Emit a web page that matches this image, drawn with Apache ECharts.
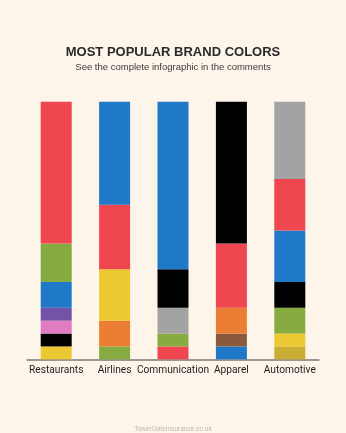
<!DOCTYPE html>
<html>
<head>
<meta charset="utf-8">
<script src="https://cdn.jsdelivr.net/npm/echarts@6/dist/echarts.min.js"></script>
<style>
html,body{margin:0;padding:0;background:#fdf5ea;}
#c{width:346px;height:433px;}
</style>
</head>
<body>
<div id="c"></div>
<script>
// Categories (x axis)
const categories = ["Restaurants", "Airlines", "Communication", "Apparel", "Automotive"];

// Share of each colour per category, listed bottom to top (percent)
const restaurantsValues   = [5, 5, 5, 5, 10, 15, 55];
const airlinesValues      = [5, 10, 20, 25, 40];
const communicationValues = [5, 5, 10, 15, 65];
const apparelValues       = [5, 5, 10, 25, 55];
const automotiveValues    = [5, 5, 10, 10, 20, 20, 30];

// Colour names per segment, bottom to top
const restaurantsColors   = ["yellow", "black", "pink", "purple", "blue", "green", "red"];
const airlinesColors      = ["green", "orange", "yellow", "red", "blue"];
const communicationColors = ["red", "green", "gray", "black", "blue"];
const apparelColors       = ["blue", "brown", "orange", "red", "black"];
const automotiveColors    = ["gold", "yellow", "green", "black", "blue", "red", "gray"];

const palette = {
  red: "#ef4650", green: "#86ab40", blue: "#1f78c8", purple: "#7352a8",
  pink: "#e07cc2", black: "#000000", yellow: "#ecc933", orange: "#ec7e33",
  gray: "#a3a3a3", brown: "#8b5a3c", gold: "#c9ae33"
};

const allValues = [restaurantsValues, airlinesValues, communicationValues, apparelValues, automotiveValues];
const allColors = [restaurantsColors, airlinesColors, communicationColors, apparelColors, automotiveColors];
const maxLayers = Math.max(...allValues.map(v => v.length));

const series = [];
for (let i = 0; i < maxLayers; i++) {
  series.push({
    type: "bar",
    stack: "total",
    barWidth: 31,
    silent: true,
    data: categories.map((c, ci) => {
      const v = allValues[ci][i];
      if (v === undefined) return "-";
      return { value: v, itemStyle: { color: palette[allColors[ci][i]] } };
    })
  });
}

const chart = echarts.init(document.getElementById("c"), null, { renderer: "canvas" });
chart.setOption({
  backgroundColor: "#fdf5ea",
  animation: false,
  title: [
    {
      text: "MOST POPULAR BRAND COLORS",
      left: "center", top: 41,
      textStyle: { fontFamily: "Liberation Sans, Arial, sans-serif", fontWeight: "bold", fontSize: 13, color: "#2a2a2a" }
    },
    {
      text: "See the complete infographic in the comments",
      left: "center", top: 57.5,
      textStyle: { fontFamily: "Liberation Sans, Arial, sans-serif", fontWeight: "normal", fontSize: 9.5, color: "#3a3a3a" }
    },
    {
      text: "TowerGateInsurance.co.uk",
      left: "center", top: 421,
      textStyle: { fontFamily: "Liberation Sans, Arial, sans-serif", fontWeight: "normal", fontSize: 6.5, color: "#bdb7ae" }
    }
  ],
  grid: { left: 27, width: 292, top: 101.7, bottom: 73.7, containLabel: false },
  xAxis: {
    type: "category",
    data: categories,
    axisLine: { show: true, lineStyle: { color: "#7a7a7a", width: 1.5 } },
    axisTick: { show: false },
    axisLabel: {
      interval: 0,
      margin: 6.5,
      fontFamily: "Roboto, sans-serif",
      fontSize: 10.2, color: "#1e1e1e"
    }
  },
  yAxis: { type: "value", min: 0, max: 100, show: false, splitLine: { show: false } },
  series: series
});
</script>
</body>
</html>
